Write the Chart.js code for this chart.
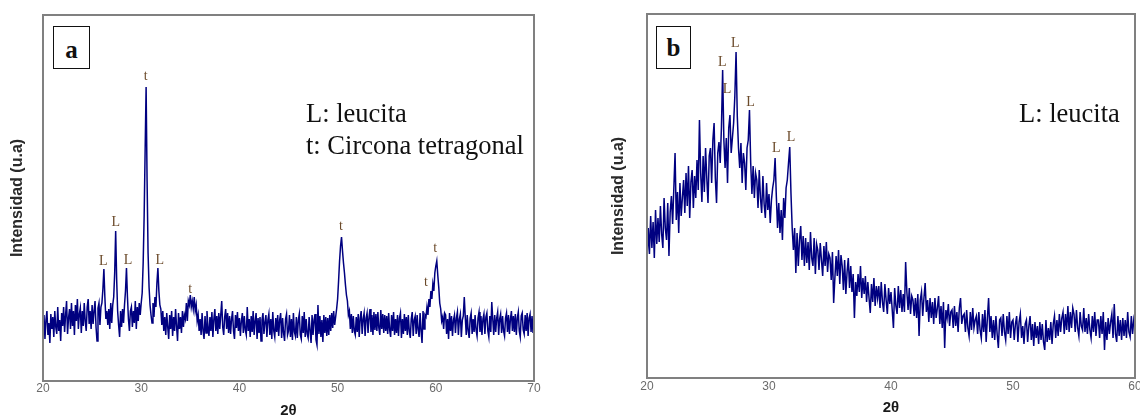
<!DOCTYPE html>
<html>
<head>
<meta charset="utf-8">
<script src="https://cdn.jsdelivr.net/npm/chart.js@4.4.0/dist/chart.umd.min.js"></script>
<style>
html,body{margin:0;padding:0;background:#fff;width:1140px;height:417px;overflow:hidden;}
#wa{position:absolute;left:0;top:0;width:560px;height:420px;}
#wb{position:absolute;left:580px;top:0;width:570px;height:417px;}
.tag{position:absolute;box-sizing:border-box;border:1.5px solid #111;background:#fff;
  font:bold 25px "Liberation Serif","Times New Roman",serif;color:#111;text-align:center;}
.legend{position:absolute;font:26.5px "Liberation Serif","Times New Roman",serif;color:#111;
  white-space:nowrap;line-height:1;}
</style>
</head>
<body>
<div id="wa"><canvas id="ca"></canvas></div>
<div id="wb"><canvas id="cb"></canvas></div>

<div class="tag" style="left:53px;top:26px;width:37px;height:43px;line-height:43px;padding-top:1px;">a</div>
<div class="tag" style="left:656px;top:26px;width:35px;height:43px;line-height:41px;">b</div>

<div class="legend" style="left:306px;top:100px;">L: leucita</div>
<div class="legend" style="left:306px;top:132px;">t: Circona tetragonal</div>
<div class="legend" style="left:1019px;top:100px;">L: leucita</div>

<script>
// ---------------- data ----------------
// Panel a: 2θ from 20 to 70, step 0.1
const twoThetaStartA = 20;
const twoThetaStepA = 0.1;
const intensityA = [
  50, 66, 42, 61, 70, 46, 58, 38, 67, 52,
  64, 44, 70, 54, 47, 74, 50, 61, 40, 68,
  55, 74, 49, 66, 80, 47, 63, 72, 52, 78,
  55, 70, 46, 76, 60, 82, 52, 67, 73, 48,
  70, 55, 78, 60, 50, 74, 82, 57, 70, 52,
  76, 57, 70, 80, 54, 40, 73, 78, 56, 74,
  78, 92, 112, 84, 62, 70, 56, 72, 52, 78,
  58, 76, 84, 108, 150, 102, 70, 56, 44, 70,
  54, 72, 58, 76, 90, 113, 84, 62, 50, 70,
  74, 54, 70, 58, 80, 52, 74, 60, 78, 66,
  78, 88, 118, 165, 230, 294, 200, 128, 94, 76,
  66, 58, 78, 64, 84, 74, 98, 113, 90, 76,
  72, 56, 70, 50, 64, 46, 68, 54, 42, 66,
  52, 70, 45, 64, 50, 72, 55, 40, 68, 52,
  64, 48, 70, 54, 66, 62, 78, 60, 80, 76,
  86, 74, 80, 72, 84, 70, 76, 60, 66, 50,
  62, 46, 68, 50, 42, 65, 48, 70, 53, 45,
  64, 50, 69, 44, 62, 72, 50, 65, 47, 68,
  52, 66, 80, 54, 46, 64, 72, 52, 68, 48,
  65, 47, 62, 70, 50, 42, 66, 53, 69, 50,
  63, 45, 60, 68, 48, 65, 51, 46, 74, 50,
  62, 44, 65, 49, 70, 46, 60, 68, 42, 63,
  48, 64, 40, 61, 68, 47, 59, 66, 44, 61,
  67, 46, 62, 42, 69, 50, 44, 63, 49, 66,
  45, 61, 68, 43, 63, 48, 40, 62, 67, 46,
  50, 66, 44, 62, 41, 68, 49, 45, 64, 43,
  61, 67, 46, 42, 65, 48, 69, 44, 62, 47,
  43, 64, 50, 38, 66, 46, 61, 67, 41, 36,
  76, 47, 65, 44, 61, 39, 66, 48, 64, 45,
  63, 46, 66, 50, 68, 53, 70, 56, 64, 72,
  82, 100, 120, 135, 144, 130, 118, 108, 96, 86,
  80, 66, 70, 52, 67, 48, 65, 50, 46, 64,
  49, 67, 44, 63, 70, 47, 62, 68, 45, 63,
  68, 48, 64, 72, 49, 66, 46, 69, 51, 67,
  50, 69, 53, 46, 71, 52, 67, 48, 66, 50,
  65, 47, 68, 51, 44, 66, 50, 69, 46, 62,
  48, 66, 45, 63, 68, 43, 62, 47, 67, 50,
  64, 46, 66, 50, 43, 62, 69, 45, 61, 65,
  47, 66, 51, 44, 68, 50, 38, 70, 52, 66,
  64, 74, 66, 82, 74, 90, 82, 97, 90, 108,
  115, 120, 106, 94, 78, 72, 60, 64, 52, 68,
  66, 47, 62, 42, 68, 50, 65, 45, 61, 66,
  48, 63, 69, 46, 62, 67, 44, 61, 65, 84,
  64, 46, 66, 50, 43, 63, 68, 47, 62, 49,
  66, 51, 45, 63, 69, 49, 65, 46, 62, 67,
  47, 64, 68, 50, 44, 65, 49, 79, 62, 46,
  66, 49, 63, 69, 46, 62, 67, 48, 65, 50,
  45, 63, 68, 49, 66, 47, 62, 70, 50, 65,
  49, 67, 46, 63, 69, 50, 44, 65, 68, 51,
  47, 66, 50, 68, 45, 63, 67, 49, 65, 48,
  60
];

// Panel b: 2θ from 20 to 60, step 0.1
const twoThetaStartB = 20;
const twoThetaStepB = 0.1;
const intensityB = [
  118, 150, 124, 162, 130, 156, 120, 168, 134, 160,
  136, 172, 144, 130, 180, 150, 138, 175, 122, 166,
  182, 154, 190, 225, 158, 186, 145, 195, 162, 180,
  198, 165, 205, 172, 212, 160, 196, 208, 170, 202,
  180, 218, 188, 258, 205, 176, 222, 186, 230, 200,
  175, 222, 230, 195, 238, 255, 200, 175, 225, 236,
  215, 250, 308, 238, 210, 240, 195, 250, 263, 225,
  240, 255, 282, 326, 262, 230, 210, 235, 195, 225,
  215, 188, 230, 238, 268, 215, 184, 212, 180, 205,
  198, 170, 208, 180, 165, 202, 174, 160, 195, 168,
  184, 155, 178, 190, 198, 220, 182, 150, 175, 145,
  168, 138, 180, 160, 190, 198, 215, 231, 185, 150,
  128, 150, 105, 145, 112, 138, 152, 118, 142, 112,
  140, 115, 136, 108, 146, 120, 112, 140, 104, 134,
  128, 108, 135, 118, 102, 132, 112, 136, 106, 124,
  120, 98, 126, 75, 100, 122, 102, 128, 94, 123,
  112, 88, 118, 84, 106, 120, 90, 112, 86, 104,
  60, 96, 82, 104, 86, 112, 80, 100, 84, 102,
  76, 96, 80, 65, 94, 76, 100, 72, 92, 80,
  92, 70, 96, 76, 66, 94, 78, 64, 90, 74,
  86, 68, 50, 90, 72, 64, 92, 70, 88, 66,
  84, 66, 116, 86, 68, 90, 64, 82, 78, 62,
  80, 60, 84, 42, 78, 86, 62, 80, 95, 66,
  78, 56, 80, 60, 76, 54, 80, 60, 70, 82,
  54, 72, 50, 76, 30, 68, 60, 74, 52, 66,
  68, 50, 72, 52, 66, 46, 70, 80, 54, 62,
  64, 46, 68, 50, 42, 66, 48, 70, 50, 58,
  62, 44, 66, 48, 40, 64, 46, 68, 36, 60,
  80, 46, 62, 40, 58, 38, 62, 44, 30, 58,
  60, 42, 64, 46, 38, 62, 44, 66, 40, 56,
  58, 38, 54, 62, 36, 56, 64, 40, 52, 34,
  54, 58, 36, 52, 62, 38, 54, 32, 56, 40,
  52, 34, 56, 38, 54, 36, 28, 58, 36, 50,
  38, 56, 34, 54, 62, 40, 58, 42, 64, 46,
  60, 66, 44, 64, 48, 72, 46, 66, 50, 70,
  64, 46, 68, 50, 42, 66, 52, 48, 70, 46,
  60, 44, 64, 48, 40, 62, 46, 66, 42, 58,
  58, 40, 62, 44, 66, 28, 56, 38, 60, 44,
  56, 64, 40, 74, 44, 36, 62, 42, 58, 38,
  60, 42, 58, 40, 66, 46, 41, 62, 44, 58,
  50
];

// x-axis tick values
const ticksA = [20, 30, 40, 50, 60, 70];
const ticksB = [20, 30, 40, 50, 60];

// peak annotations (2θ, intensity level of the label, text)
const peakThetaA = [26.13, 27.42, 28.67, 30.47, 31.89, 35.0, 50.35, 59.0, 59.94];
const peakLevelA = [120, 159, 121, 305, 121, 92, 155, 99, 133];
const peakTextA  = ['L', 'L', 'L', 't', 'L', 't', 't', 't', 't'];

const peakThetaB = [26.18, 26.56, 27.24, 28.49, 30.59, 31.81];
const peakLevelB = [316, 289, 335, 276, 230, 241];
const peakTextB  = ['L', 'L', 'L', 'L', 'L', 'L'];

// ---------------- helpers ----------------
function toPoints(start, step, values) {
  return values.map((v, i) => ({ x: +(start + i * step).toFixed(2), y: v }));
}

const framePlugin = {
  id: 'frame',
  afterDatasetsDraw(chart) {
    const a = chart.chartArea, ctx = chart.ctx;
    ctx.save();
    ctx.strokeStyle = '#808080';
    ctx.lineWidth = 2;
    ctx.strokeRect(a.left, a.top, a.right - a.left, a.bottom - a.top);
    ctx.restore();
  }
};

const peakLabelPlugin = {
  id: 'peakLabels',
  afterDatasetsDraw(chart, args, opts) {
    const ctx = chart.ctx, xs = chart.scales.x, ys = chart.scales.y;
    ctx.save();
    ctx.font = '14px "Liberation Serif", "Times New Roman", serif';
    ctx.fillStyle = '#6b4a2a';
    ctx.textAlign = 'center';
    ctx.textBaseline = 'middle';
    opts.theta.forEach((t, i) => {
      ctx.fillText(opts.text[i], xs.getPixelForValue(t), ys.getPixelForValue(opts.level[i]));
    });
    ctx.restore();
  }
};

function makeChart(id, cfg) {
  return new Chart(document.getElementById(id), {
    type: 'line',
    data: {
      datasets: [{
        data: toPoints(cfg.start, cfg.step, cfg.values),
        borderColor: '#000080',
        borderWidth: 1.5,
        pointRadius: 0,
        tension: 0,
        fill: false
      }]
    },
    options: {
      responsive: true,
      maintainAspectRatio: false,
      animation: false,
      events: [],
      layout: { padding: cfg.padding },
      plugins: {
        legend: { display: false },
        tooltip: { enabled: false },
        peakLabels: { theta: cfg.peakTheta, level: cfg.peakLevel, text: cfg.peakText }
      },
      scales: {
        x: {
          type: 'linear',
          min: cfg.xMin, max: cfg.xMax,
          afterBuildTicks(scale) { scale.ticks = cfg.ticks.map(v => ({ value: v })); },
          afterFit(scale) { scale.height = cfg.xHeight; },
          grid: { display: false, drawTicks: false },
          border: { display: false },
          ticks: {
            padding: cfg.tickPad,
            color: '#6b6b6b',
            font: { family: '"Liberation Sans", Arial, sans-serif', size: 12 },
            maxRotation: 0,
            autoSkip: false
          },
          title: {
            display: true,
            text: '2θ',
            color: '#1a1a1a',
            font: { family: '"Liberation Sans", Arial, sans-serif', size: 15, weight: 'bold' },
            padding: { top: 0, bottom: 0 }
          }
        },
        y: {
          min: 0, max: cfg.yMax,
          afterFit(scale) { scale.width = cfg.yWidth; },
          grid: { display: false, drawTicks: false },
          border: { display: false },
          ticks: { display: false },
          title: {
            display: true,
            text: 'Intensidad (u.a)',
            color: '#2a2a2a',
            font: { family: '"Liberation Sans", Arial, sans-serif', size: 16, weight: 'bold' },
            padding: { top: 0, bottom: 0 }
          }
        }
      }
    },
    plugins: [framePlugin, peakLabelPlugin]
  });
}

makeChart('ca', {
  start: twoThetaStartA, step: twoThetaStepA, values: intensityA,
  xMin: 20, xMax: 70, ticks: ticksA, yMax: 366,
  padding: { left: 8, right: 26, top: 15, bottom: 0 },
  yWidth: 35, xHeight: 39, tickPad: 0,
  peakTheta: peakThetaA, peakLevel: peakLevelA, peakText: peakTextA
});

makeChart('cb', {
  start: twoThetaStartB, step: twoThetaStepB, values: intensityB,
  xMin: 20, xMax: 60, ticks: ticksB, yMax: 364,
  padding: { left: 29, right: 15, top: 14, bottom: 0 },
  yWidth: 38, xHeight: 39, tickPad: 1,
  peakTheta: peakThetaB, peakLevel: peakLevelB, peakText: peakTextB
});
</script>
</body>
</html>
